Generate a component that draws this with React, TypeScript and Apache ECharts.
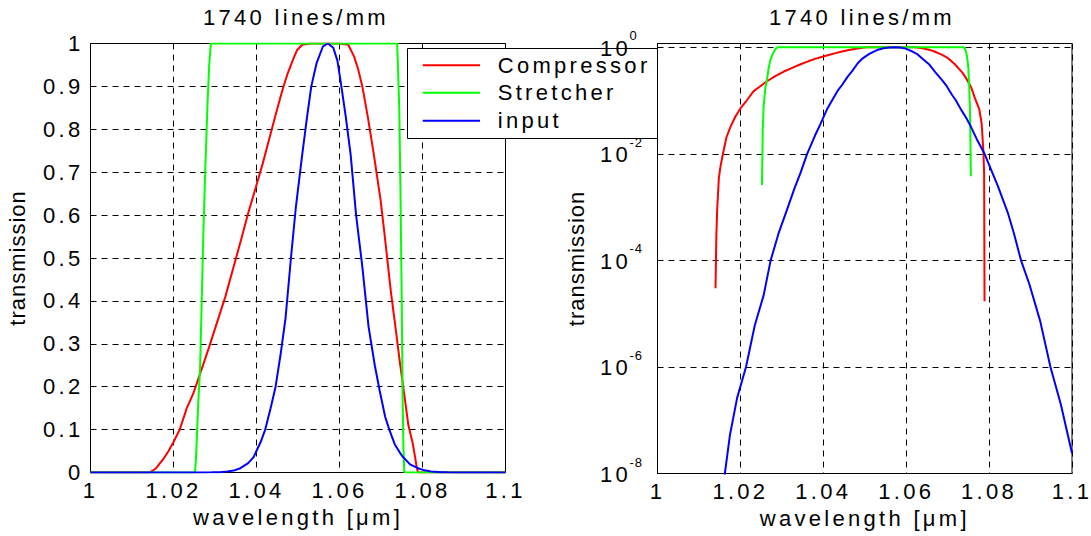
import React, { useEffect, useRef } from 'react';
import * as echarts from 'echarts';

const titleText = '1740 lines/mm';
const xName = 'wavelength [μm]';
const yName = 'transmission';
const legendNames = ['Compressor', 'Stretcher', 'input'];
const seriesColors = ['#ff0000', '#00ff00', '#0000ff'];

// Compressor (red)
const compressorWl = [1.0, 1.014, 1.0142, 1.0144, 1.0148, 1.0152, 1.0158, 1.0166, 1.0176, 1.0188, 1.02, 1.0215, 1.0232, 1.0248, 1.0264, 1.0285, 1.0305, 1.0325, 1.0345, 1.0365, 1.038, 1.04, 1.0415, 1.043, 1.0445, 1.0462, 1.0475, 1.0487, 1.0498, 1.051, 1.053, 1.06, 1.0621, 1.0635, 1.0645, 1.0655, 1.0668, 1.0683, 1.0699, 1.0708, 1.0716, 1.0724, 1.0736, 1.0745, 1.0757, 1.0766, 1.0776, 1.0782, 1.0786, 1.0788, 1.0789, 1.1];
const compressorT = [0, 3e-5, 3e-4, 9e-4, 3.5e-3, 5.8e-3, 0.01, 0.02, 0.032, 0.05, 0.071, 0.1, 0.15, 0.185, 0.23, 0.29, 0.35, 0.41, 0.48, 0.55, 0.605, 0.67, 0.72, 0.775, 0.83, 0.89, 0.93, 0.96, 0.985, 0.997, 1, 1, 0.997, 0.97, 0.94, 0.9, 0.83, 0.74, 0.635, 0.56, 0.49, 0.42, 0.33, 0.26, 0.175, 0.11, 0.07, 0.037, 0.012, 4.4e-3, 1.7e-5, 0];

// Stretcher (green)
const stretcherWl = [1.0, 1.025, 1.0252, 1.0254, 1.0256, 1.026, 1.0264, 1.0268, 1.0272, 1.0277, 1.0282, 1.0286, 1.029, 1.0739, 1.0744, 1.0747, 1.075, 1.0752, 1.0754, 1.0756, 1.0757, 1.1];
const stretcherT = [0, 0, 0.0026, 0.03, 0.076, 0.17, 0.24, 0.4, 0.56, 0.72, 0.86, 0.95, 1, 1, 0.85, 0.65, 0.4, 0.18, 0.06, 0.0038, 0, 0];

// input (blue)
const inputWl = [1.0, 1.015, 1.01625, 1.0175, 1.0192, 1.02135, 1.02346, 1.0256, 1.0273, 1.0292, 1.0311, 1.033, 1.0345, 1.0361, 1.038, 1.0393, 1.041, 1.0421, 1.0434, 1.0446, 1.0458, 1.047, 1.0483, 1.0495, 1.051, 1.0522, 1.0532, 1.0545, 1.056, 1.0572, 1.0585, 1.0595, 1.0603, 1.0615, 1.0627, 1.064, 1.0655, 1.067, 1.0685, 1.0697, 1.071, 1.072, 1.0733, 1.0745, 1.0753, 1.077, 1.0789, 1.0805, 1.0821, 1.0845, 1.086, 1.0877, 1.0897, 1.0923, 1.0948, 1.0973, 1.1];
const inputT = [0, 2.5e-9, 1e-8, 5.4e-8, 2.6e-7, 1e-6, 6e-6, 2.2e-5, 1e-4, 3.2e-4, 8.3e-4, 2.2e-3, 4.4e-3, 0.01, 0.022, 0.036, 0.071, 0.1, 0.15, 0.2, 0.275, 0.36, 0.5, 0.62, 0.74, 0.83, 0.9, 0.955, 0.993, 1, 0.99, 0.96, 0.91, 0.83, 0.74, 0.6, 0.48, 0.34, 0.25, 0.19, 0.13, 0.1, 0.066, 0.047, 0.036, 0.019, 0.01, 5e-3, 2.5e-3, 7.9e-4, 3.2e-4, 1e-4, 3.6e-5, 7.4e-6, 1e-6, 2e-7, 2.4e-8];

const FONT = '"Liberation Sans", Arial, Helvetica, sans-serif';
const FS = 22;

const linPairs = (wl: number[], t: number[]) => wl.map((w, i) => [w, t[i]]);
const logPairs = (wl: number[], t: number[]) =>
  wl.map((w, i) => [w, t[i]]).filter((p) => p[1] > 0).map((p) => [p[0], Math.log10(p[1])]);

const txt = { color: '#000', fontFamily: FONT, fontSize: FS };
const dashed = { show: true, lineStyle: { color: '#000', width: 1, type: [6, 5] as any } };

export default function App() {
  const ref = useRef<HTMLDivElement>(null);
  useEffect(() => {
    const el = ref.current!;
    const chart = echarts.init(el, null, { renderer: 'svg' });
    const xFmt = (v: number) => String(+v.toFixed(2));
    const xAxisBase = (gi: number) => ({
      type: 'value',
      gridIndex: gi,
      min: 1,
      max: 1.1,
      interval: 0.02,
      axisLine: { show: false },
      axisTick: { show: false },
      axisLabel: { ...txt, margin: 7, formatter: xFmt },
      splitLine: dashed,
      name: xName,
      nameLocation: 'middle',
      nameGap: 34,
      nameTextStyle: txt,
    });
    const datasets = [
      [compressorWl, compressorT],
      [stretcherWl, stretcherT],
      [inputWl, inputT],
    ];
    const series: any[] = [];
    datasets.forEach(([wl, t], i) => {
      series.push({
        type: 'line', name: legendNames[i], xAxisIndex: 0, yAxisIndex: 0,
        data: linPairs(wl, t), showSymbol: false, symbol: 'none',
        lineStyle: { color: seriesColors[i], width: 2 }, clip: true,
      });
    });
    datasets.forEach(([wl, t], i) => {
      series.push({
        type: 'line', name: legendNames[i], xAxisIndex: 1, yAxisIndex: 1,
        data: logPairs(wl, t), showSymbol: false, symbol: 'none',
        lineStyle: { color: seriesColors[i], width: 2 }, clip: true,
      });
    });
    const legendRows = [65.3, 92.7, 120.7];
    const graphic: any[] = [
      { type: 'text', x: 296, y: 17.5, style: { text: titleText, fill: '#000', fontSize: FS, fontFamily: FONT, align: 'center', verticalAlign: 'middle' } },
      { type: 'text', x: 862, y: 17.5, style: { text: titleText, fill: '#000', fontSize: FS, fontFamily: FONT, align: 'center', verticalAlign: 'middle' } },
      { type: 'rect', z: 10, shape: { x: 407.5, y: 48.5, width: 112, height: 90 }, style: { fill: '#fff' } },
      { type: 'rect', z: 12, shape: { x: 658.5, y: 49.5, width: 40, height: 88.5 }, style: { fill: '#fff' } },
      { type: 'polyline', z: 13, shape: { points: [[658, 48.5], [407.5, 48.5], [407.5, 138.5], [658, 138.5]] }, style: { stroke: '#000', lineWidth: 1, fill: null } },
    ];
    legendRows.forEach((y, i) => {
      graphic.push({ type: 'line', z: 13, shape: { x1: 422.7, y1: y, x2: 480, y2: y }, style: { stroke: seriesColors[i], lineWidth: 2 } });
      graphic.push({ type: 'text', z: 11, x: 497.7, y, style: { text: legendNames[i], fill: '#000', fontSize: FS, fontFamily: FONT, align: 'left', verticalAlign: 'middle' } });
    });
    chart.setOption({
      animation: false,
      backgroundColor: '#fff',
      grid: [
        { left: 90.5, top: 43.5, width: 415, height: 429, show: true, borderColor: '#000', borderWidth: 1, backgroundColor: '#fff' },
        { left: 657.5, top: 43.5, width: 414.5, height: 430, show: true, borderColor: '#000', borderWidth: 1, backgroundColor: '#fff' },
      ],
      xAxis: [xAxisBase(0), xAxisBase(1)],
      yAxis: [
        {
          type: 'value', gridIndex: 0, min: 0, max: 1, interval: 0.1,
          axisLine: { show: false }, axisTick: { show: false },
          axisLabel: { ...txt, margin: 7 },
          splitLine: dashed,
          name: yName, nameLocation: 'middle', nameGap: 62, nameTextStyle: txt,
        },
        {
          type: 'value', gridIndex: 1, min: -8, max: 0.07, interval: 2,
          axisLine: { show: false }, axisTick: { show: false },
          axisLabel: {
            align: 'left', margin: 57.5,
            formatter: (v: number) => (Number.isInteger(v) && v % 2 === 0 ? `{b|10}{s|${v}}` : ''),
            rich: {
              b: { fontSize: FS, fontFamily: FONT, color: '#000', padding: [8, 5, 6, 0] },
              s: { fontSize: 13, fontFamily: FONT, color: '#000', verticalAlign: 'top' },
            },
          },
          splitLine: { ...dashed, showMaxLine: false },
          name: yName, nameLocation: 'middle', nameGap: 70, nameTextStyle: txt,
        },
      ],
      series,
      graphic,
    });
    const applySpacing = () => {
      el.querySelectorAll('text').forEach((t) => {
        const s = t.textContent || '';
        let sp = '3.3px';
        if (s === yName) sp = '1px';
        else if (/^-\d$/.test(s)) sp = '1px';
        (t as SVGTextElement).style.letterSpacing = sp;
      });
    };
    applySpacing();
    chart.on('finished', applySpacing);
    return () => chart.dispose();
  }, []);
  return (
    <div
      ref={ref}
      style={{ position: 'fixed', left: 0, top: 0, width: 1091, height: 536, background: '#fff' }}
    />
  );
}
